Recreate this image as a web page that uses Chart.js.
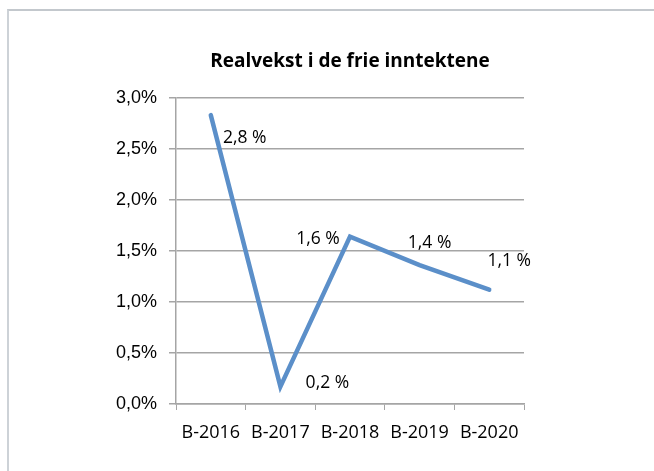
<!DOCTYPE html>
<html>
<head>
<meta charset="utf-8">
<script src="https://cdn.jsdelivr.net/npm/chart.js@4/dist/chart.umd.min.js"></script>
<style>
  html, body { margin: 0; padding: 0; background: #fff; }
  #wrap { position: relative; width: 654px; height: 471px; overflow: hidden; }
  #frame { position: absolute; left: 7px; top: 9px; width: 700px; height: 500px;
           border-left: 2px solid #cdd2d7; border-top: 2px solid #c3c8cd; box-sizing: border-box; }
  canvas { position: absolute; left: 0; top: 0; }
</style>
</head>
<body>
<div id="wrap">
  <div id="frame"></div>
  <canvas id="chart" width="654" height="471"></canvas>
</div>
<script>
const BUDGET_YEARS = ["B-2016", "B-2017", "B-2018", "B-2019", "B-2020"];
const REAL_GROWTH = [2.83, 0.17, 1.64, 1.36, 1.12];
const Y_MIN = 0;
const Y_MAX = 3;
const Y_STEP = 0.5;

const CHART_TITLE = 'Realvekst i de frie inntektene';
const LINE_COLOR = '#5b8fc9';
const GRID_COLOR = '#a5a5a5';

// where each value label sits relative to its point (Excel placed them by hand)
const labelOffsets = [[34, 23], [47, -4], [-32, 2], [10, -22], [20, -29]];

const commaDecimal = (v) => v.toFixed(1).replace('.', ',');

const valueLabelsPlugin = {
  id: 'valueLabels',
  afterDatasetsDraw(chart) {
    const { ctx } = chart;
    const meta = chart.getDatasetMeta(0);
    ctx.save();
    ctx.font = '17.5px "Open Sans"';
    ctx.fillStyle = '#000';
    ctx.textAlign = 'center';
    ctx.textBaseline = 'middle';
    meta.data.forEach((pt, i) => {
      const [dx, dy] = labelOffsets[i];
      ctx.fillText(commaDecimal(REAL_GROWTH[i]) + ' %', pt.x + dx, pt.y + dy);
    });
    ctx.restore();
  }
};

const realGrowthConfig = {
  type: 'line',
  data: {
    labels: BUDGET_YEARS,
    datasets: [{
      label: 'Realvekst',
      data: REAL_GROWTH,
      borderColor: LINE_COLOR,
      borderWidth: 4.5,
      borderCapStyle: 'round',
      borderJoinStyle: 'miter',
      pointRadius: 0,
      tension: 0,
      fill: false,
      clip: false
    }]
  },
  options: {
    responsive: false,
    animation: false,
    devicePixelRatio: 1,
    layout: {
      padding: { left: 0, right: 130, top: 0, bottom: 0 }
    },
    plugins: {
      legend: { display: false },
      tooltip: { enabled: false },
      title: {
        display: true,
        fullSize: false,
        text: CHART_TITLE,
        color: '#000',
        font: { family: '"Open Sans"', size: 19, weight: 'bold' },
        padding: { top: 50, bottom: 25 }
      }
    },
    scales: {
      x: {
        type: 'category',
        offset: true,
        afterFit: (scale) => { scale.height = 67; },
        grid: {
          offset: true,
          drawOnChartArea: false,
          drawTicks: true,
          tickLength: 6,
          color: GRID_COLOR
        },
        border: { color: GRID_COLOR, width: 1.5 },
        ticks: {
          color: '#000',
          padding: 12,
          maxRotation: 0,
          font: { family: '"Open Sans"', size: 18 }
        }
      },
      y: {
        min: Y_MIN,
        max: Y_MAX,
        afterFit: (scale) => { scale.width = 176; },
        grid: {
          color: GRID_COLOR,
          lineWidth: 1.5,
          drawTicks: true,
          tickLength: 7
        },
        border: { color: GRID_COLOR, width: 1.5 },
        ticks: {
          stepSize: Y_STEP,
          color: '#000',
          padding: 12,
          font: { family: '"Liberation Sans"', size: 18 },
          callback: (value) => commaDecimal(value) + '%'
        }
      }
    }
  },
  plugins: [valueLabelsPlugin]
};

const realGrowthChart = new Chart(document.getElementById('chart'), realGrowthConfig);
</script>
</body>
</html>
